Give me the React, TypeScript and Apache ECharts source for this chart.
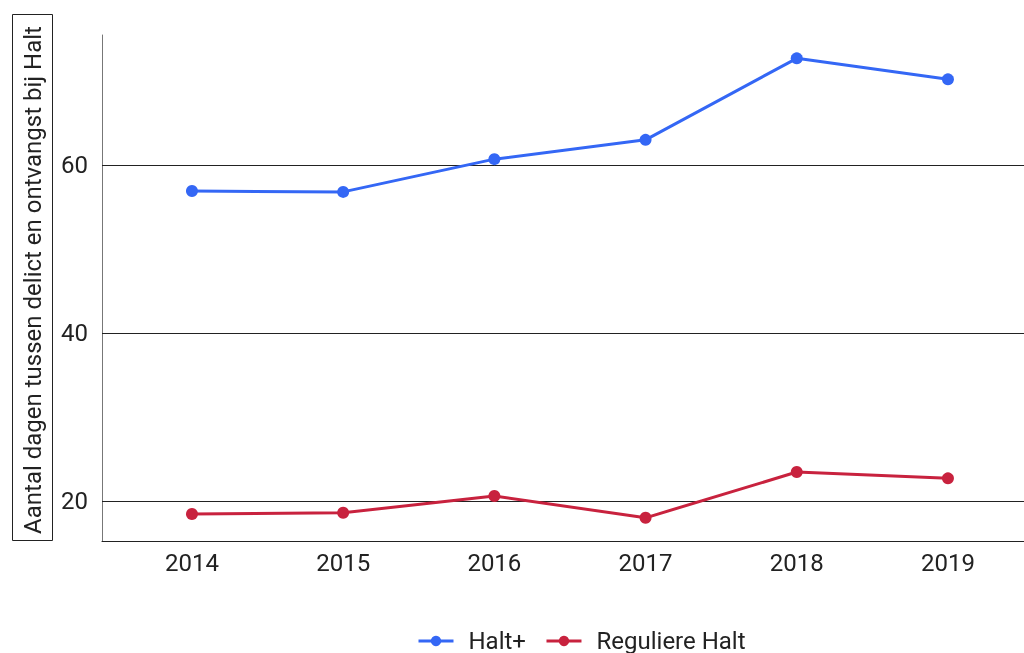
import React, { useEffect, useRef } from "react";
import * as echarts from "echarts";

const years = [2014, 2015, 2016, 2017, 2018, 2019];
const haltPlus = [56.9, 56.8, 60.7, 63.0, 72.7, 70.2];
const regulier = [18.45, 18.6, 20.6, 18.0, 23.45, 22.7];
const yTicks = [20, 40, 60];
const seriesNames = ["Halt+", "Reguliere Halt"];
const yTitle = "Aantal dagen tussen delict en ontvangst bij Halt";

export default function App() {
  const ref = useRef<HTMLDivElement>(null);
  useEffect(() => {
    const chart = echarts.init(ref.current!, null, { renderer: "svg" });
    const font = "Roboto";
    chart.setOption({
      animation: false,
      textStyle: { fontFamily: font },
      grid: { left: 102, right: 0, top: 35, bottom: 112 },
      legend: {
        bottom: -5,
        left: 412,
        itemWidth: 35,
        itemHeight: 13,
        itemGap: 19,
        lineStyle: { width: 3 },
        textStyle: {
          fontSize: 24,
          color: "#222",
          fontFamily: font,
          padding: [0, 0, 0, 10],
        },
        data: seriesNames,
      },
      xAxis: {
        type: "value",
        min: 2013.405,
        max: 2019.503,
        axisLine: { show: true, lineStyle: { color: "#222", width: 1 } },
        axisTick: { show: false },
        splitLine: { show: false },
        axisLabel: {
          customValues: years,
          fontSize: 24,
          color: "#222",
          margin: 10,
          formatter: (v: number) => String(Math.round(v)),
        },
      },
      yAxis: {
        type: "value",
        min: 15.24,
        max: 75.48,
        axisLine: { show: true, lineStyle: { color: "#777", width: 1 } },
        axisTick: { show: false },
        splitLine: { show: false },
        axisLabel: {
          customValues: yTicks,
          fontSize: 24,
          color: "#222",
          margin: 14,
        },
      },
      graphic: [
        {
          type: "rect",
          shape: { x: 12.5, y: 14.5, width: 40, height: 526 },
          style: { fill: "#fff", stroke: "#222", lineWidth: 1 },
        },
        {
          type: "text",
          x: 33,
          y: 280,
          rotation: Math.PI / 2,
          style: {
            text: yTitle,
            fontSize: 24,
            fontFamily: font,
            fill: "#222",
            align: "center",
            verticalAlign: "middle",
          },
        },
      ],
      series: [
        {
          name: seriesNames[0],
          type: "line",
          data: years.map((y, i) => [y, haltPlus[i]]),
          symbol: "circle",
          symbolSize: 12,
          itemStyle: { color: "#3467F5" },
          lineStyle: { width: 3, color: "#3467F5" },
          z: 3,
          markLine: {
            silent: true,
            symbol: "none",
            label: { show: false },
            lineStyle: { color: "#222", width: 1, type: "solid" },
            data: yTicks.map((t) => ({ yAxis: t })),
            z: 1,
          },
        },
        {
          name: seriesNames[1],
          type: "line",
          data: years.map((y, i) => [y, regulier[i]]),
          symbol: "circle",
          symbolSize: 12,
          itemStyle: { color: "#C8223E" },
          lineStyle: { width: 3, color: "#C8223E" },
          z: 3,
        },
      ],
    });
    return () => chart.dispose();
  }, []);
  return (
    <div
      ref={ref}
      style={{ position: "fixed", left: 0, top: 0, width: 1024, height: 653 }}
    />
  );
}
